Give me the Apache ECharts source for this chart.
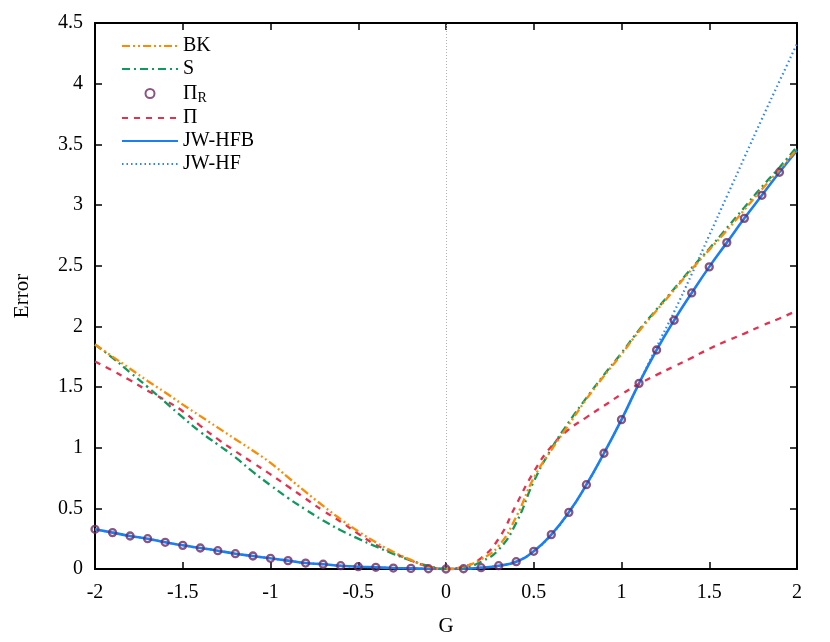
<!DOCTYPE html>
<html>
<head>
<meta charset="utf-8">
<script src="https://cdn.jsdelivr.net/npm/echarts@6/dist/echarts.min.js"></script>
<style>
  html, body { margin: 0; padding: 0; background: #fff; }
  #chart { width: 830px; height: 642px; }
</style>
</head>
<body>
<div id="chart"></div>
<script>
// G values (x axis)
var gVals = [-2, -1.9, -1.8, -1.7, -1.6, -1.5, -1.4, -1.3, -1.2, -1.1, -1, -0.9, -0.8, -0.7, -0.6, -0.5, -0.4, -0.3, -0.2, -0.1,
    0, 0.1, 0.2, 0.3, 0.4, 0.5, 0.6, 0.7, 0.8, 0.9, 1, 1.1, 1.2, 1.3, 1.4, 1.5, 1.6, 1.7, 1.8, 1.9, 2];

var bkVals = [1.85, 1.75, 1.65, 1.55, 1.455, 1.355, 1.26, 1.165, 1.07, 0.975, 0.875, 0.755, 0.635, 0.52, 0.41, 0.31, 0.22, 0.14, 0.075, 0.02,
    0, 0.02, 0.08, 0.19, 0.43, 0.75, 0.98, 1.19, 1.40, 1.59, 1.77, 1.96, 2.13, 2.30, 2.47, 2.63, 2.79, 2.96, 3.13, 3.29, 3.46];

var sVals = [1.85, 1.74, 1.62, 1.50, 1.375, 1.25, 1.13, 1.025, 0.92, 0.80, 0.69, 0.585, 0.49, 0.40, 0.32, 0.25, 0.185, 0.125, 0.07, 0.025,
    0, 0.01, 0.06, 0.16, 0.38, 0.72, 0.99, 1.21, 1.41, 1.60, 1.78, 1.97, 2.14, 2.31, 2.48, 2.64, 2.81, 2.98, 3.15, 3.31, 3.48];

var piVals = [1.71, 1.635, 1.555, 1.47, 1.39, 1.30, 1.18, 1.07, 0.97, 0.875, 0.78, 0.68, 0.58, 0.48, 0.39, 0.29, 0.20, 0.135, 0.07, 0.02,
    0, 0.02, 0.09, 0.25, 0.53, 0.80, 1.01, 1.15, 1.25, 1.345, 1.44, 1.525, 1.60, 1.67, 1.74, 1.815, 1.88, 1.94, 2.005, 2.065, 2.13];

// Pi_R points, G = -2 ... 1.9
var piRVals = [0.327, 0.30, 0.272, 0.25, 0.22, 0.195, 0.173, 0.151, 0.126, 0.107, 0.088, 0.069, 0.049, 0.039, 0.027, 0.019, 0.014, 0.008, 0.005, 0.002,
    0, 0.002, 0.011, 0.027, 0.06, 0.146, 0.283, 0.467, 0.695, 0.954, 1.231, 1.53, 1.805, 2.05, 2.275, 2.49, 2.69, 2.89, 3.08, 3.27];

var hfbVals = [0.327, 0.30, 0.272, 0.25, 0.22, 0.195, 0.173, 0.151, 0.126, 0.107, 0.088, 0.069, 0.049, 0.039, 0.027, 0.019, 0.014, 0.008, 0.005, 0.002,
    0, 0.002, 0.011, 0.027, 0.06, 0.146, 0.283, 0.467, 0.695, 0.954, 1.231, 1.53, 1.805, 2.05, 2.275, 2.49, 2.69, 2.89, 3.08, 3.27, 3.45];

var hfVals = [0.327, 0.30, 0.272, 0.25, 0.22, 0.195, 0.173, 0.151, 0.126, 0.107, 0.088, 0.069, 0.049, 0.039, 0.027, 0.019, 0.014, 0.008, 0.005, 0.002,
    0, 0.002, 0.011, 0.027, 0.06, 0.146, 0.283, 0.467, 0.695, 0.954, 1.231, 1.53, 1.83, 2.12, 2.43, 2.75, 3.07, 3.39, 3.71, 4.02, 4.33];

var pairs = function (ys) {
    var out = [];
    ys.forEach(function (y, i) {
        out.push([gVals[i], y]);
    });
    return out;
};

var FONT = 'Liberation Serif';

var lineSeries = function (name, ys, color, dash, width, z) {
    return {
        name: name,
        type: 'line',
        data: pairs(ys),
        symbol: 'none',
        smooth: true,
        z: z,
        lineStyle: { color: color, width: width, type: dash },
        itemStyle: { color: color }
    };
};

var box = document.getElementById('chart');
var myChart = echarts.init(box);

var tickCommon = {
    axisLine: { show: true, onZero: false, lineStyle: { color: '#000', width: 2 } },
    axisTick: { show: true, inside: true, length: 7, lineStyle: { color: '#000', width: 1.5 } },
    splitLine: { show: false }
};

// legend line items without the dot
var noDot = function (name) {
    return { name: name, itemStyle: { opacity: 0 } };
};

var options = {
    animation: false,
    grid: { left: 95, right: 33, top: 23, bottom: 73 },
    legend: {
        orient: 'vertical',
        left: 116,
        top: 31,
        itemWidth: 56,
        itemHeight: 9,
        itemGap: 3,
        textStyle: {
            fontFamily: FONT, fontSize: 20, color: '#000', lineHeight: 17,
            rich: {
                n: { fontFamily: FONT, fontSize: 20, color: '#000', lineHeight: 17 },
                s: { fontFamily: FONT, fontSize: 14, color: '#000', lineHeight: 17, padding: [9, 0, 0, 0] }
            }
        },
        formatter: function (name) {
            return name === 'ΠR' ? '{n|Π}{s|R}' : name;
        },
        data: [noDot('BK'), noDot('S'), 'ΠR', noDot('Π'), noDot('JW-HFB'), noDot('JW-HF')]
    },
    xAxis: [
        Object.assign({
            type: 'value', min: -2, max: 2, interval: 0.5, position: 'bottom',
            name: 'G', nameLocation: 'middle', nameGap: 47,
            nameTextStyle: { fontFamily: FONT, fontSize: 21, color: '#000' },
            axisLabel: { fontFamily: FONT, fontSize: 20, color: '#000', margin: 14 }
        }, tickCommon),
        Object.assign({
            type: 'value', min: -2, max: 2, interval: 0.5, position: 'top',
            axisLabel: { show: false }
        }, tickCommon)
    ],
    yAxis: [
        Object.assign({
            type: 'value', min: 0, max: 4.5, interval: 0.5, position: 'left',
            name: 'Error', nameLocation: 'middle', nameGap: 62, nameRotate: 90,
            nameTextStyle: { fontFamily: FONT, fontSize: 21, color: '#000' },
            axisLabel: { fontFamily: FONT, fontSize: 20, color: '#000', margin: 12 }
        }, tickCommon),
        Object.assign({
            type: 'value', min: 0, max: 4.5, interval: 0.5, position: 'right',
            axisLabel: { show: false }
        }, tickCommon)
    ],
    series: [
        {
            name: 'zero',
            type: 'line',
            data: [],
            silent: true,
            markLine: {
                silent: true,
                symbol: 'none',
                label: { show: false },
                lineStyle: { color: '#b0b0b0', type: [1, 2], width: 1 },
                data: [{ xAxis: 0 }]
            }
        },
        lineSeries('JW-HF', hfVals, '#2a85f0', [1.5, 3], 2.2, 2),
        lineSeries('JW-HFB', hfbVals, '#1a7ff2', 'solid', 2.6, 3),
        lineSeries('Π', piVals, '#e6304f', [6, 6], 2.3, 4),
        lineSeries('S', sVals, '#0e9a5e', [8, 4, 2, 4], 2.3, 5),
        lineSeries('BK', bkVals, '#ff8a00', [8, 3, 2, 3, 2, 3], 2.3, 6),
        {
            name: 'ΠR',
            type: 'scatter',
            data: pairs(piRVals),
            symbol: 'circle',
            symbolSize: 7,
            z: 10,
            itemStyle: { color: 'rgba(0,0,0,0)', borderColor: '#6b2a62', borderWidth: 2.3 }
        }
    ]
};

myChart.setOption(options);
</script>
</body>
</html>
